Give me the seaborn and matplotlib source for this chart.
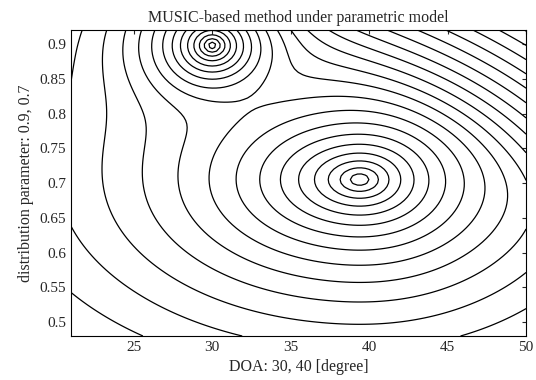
import numpy as np
import matplotlib
matplotlib.use('Agg')
import matplotlib.pyplot as plt
import seaborn as sns

sns.set_style('white')
plt.rcParams['font.family'] = ['Liberation Serif', 'DejaVu Serif']

# spectrum peaks
peak_doa = [30.0, 39.4]          # degree
peak_param = [0.898, 0.705]      # distribution parameter
peak_height = [0.0, 0.0]
peak_width = [22.0, 38.0]        # flat part of each peak
peak_sx_left = [1.2, 1.75]       # horizontal stretch of the rings, left side
peak_sx_right = [1.2, 1.5]       # horizontal stretch of the rings, right side
peak_sy = [1.0, 1.0]             # vertical stretch of the rings

# fast fall-off towards the upper right corner (line of the dense diagonals)
ridge_start = [35.5, 0.90]
ridge_end = [50.0, 0.70]
ridge_slope = 0.0065

doa_grid = np.arange(21, 50.01, 0.25)
param_grid = np.arange(0.48, 0.9201, 0.005)
first_level = 0.14
level_step = 0.13
n_levels = 45

# screen-ish units so the rings come out with the right aspect
kx, ky = 15.69, 695.45

xx, yy = np.meshgrid(doa_grid, param_grid)
parts = []
for x0, y0, h, e, sl, sr, sy in zip(peak_doa, peak_param, peak_height, peak_width,
                                    peak_sx_left, peak_sx_right, peak_sy):
    dx = (xx - x0) * kx
    sx = (sl + sr) / 2 + (sl - sr) / 2 * np.tanh(-dx / 60)
    dx = dx / sx
    dy = (yy - y0) * ky / sy
    parts.append(h - np.log(1 + np.sqrt(dx ** 2 + dy ** 2) / e))
p = 5.0
z = np.log(sum(np.exp(p * q) for q in parts)) / p

lx = (ridge_end[0] - ridge_start[0]) * kx
ly = (ridge_end[1] - ridge_start[1]) * ky
ln = np.hypot(lx, ly)
u = ((xx - ridge_start[0]) * kx * (-ly) + (yy - ridge_start[1]) * ky * lx) / ln
w = 15.0
z = z - ridge_slope * w * np.logaddexp(0, u / w)

fig = plt.figure(figsize=(5.36, 3.80), dpi=100)
ax = fig.add_axes([0.1325, 0.1158, 0.849, 0.805])
levels = np.sort(-first_level - level_step * np.arange(n_levels))
ax.contour(xx, yy, z, levels=levels, colors='black', linewidths=0.9, linestyles='solid')

ax.set_xlim(21, 50)
ax.set_ylim(0.48, 0.92)
ax.set_xticks([25, 30, 35, 40, 45, 50])
ax.set_yticks([0.5, 0.55, 0.6, 0.65, 0.7, 0.75, 0.8, 0.85, 0.9])
ax.set_yticklabels(['0.5', '0.55', '0.6', '0.65', '0.7', '0.75', '0.8', '0.85', '0.9'])
ax.tick_params(direction='in', length=3, labelsize=11, top=True, right=True)
for sp in ax.spines.values():
    sp.set_color('black')
    sp.set_linewidth(0.8)

ax.set_title('MUSIC-based method under parametric model', fontsize=11.5)
ax.set_xlabel('DOA: 30, 40 [degree]', fontsize=11.5)
ax.set_ylabel('distribution parameter: 0.9, 0.7', fontsize=11.5)

fig.savefig('out.png', dpi=100)
